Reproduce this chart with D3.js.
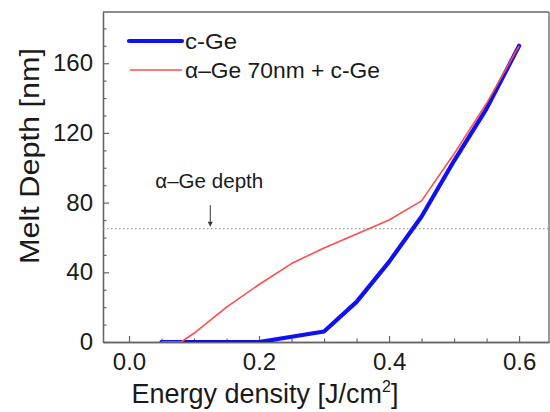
<!DOCTYPE html>
<html>
<head>
<meta charset="utf-8">
<script src="https://cdn.jsdelivr.net/npm/d3@7"></script>
<style>
  html, body { margin: 0; padding: 0; background: #fff; }
  svg { display: block; font-family: "Liberation Sans", Arial, sans-serif; }
</style>
</head>
<body>
<svg id="chart" width="550" height="412"></svg>
<script>
// ---- data ----
const cGeX = [0.05, 0.1, 0.15, 0.2, 0.25, 0.3, 0.35, 0.4, 0.45, 0.5, 0.55, 0.6];
const cGeY = [0, 0, 0, 0, 3, 6, 23, 46, 72, 104, 134, 170];
const aGeX = [0.05, 0.08, 0.1, 0.15, 0.2, 0.25, 0.3, 0.35, 0.4, 0.45, 0.5, 0.55, 0.6];
const aGeY = [0, 0, 5, 20, 33, 45, 54, 62, 70, 81, 108, 137, 170];
const seriesNames = ["c-Ge", "\u03B1\u2013Ge 70nm + c-Ge"];
const xTickValues = [0.0, 0.2, 0.4, 0.6];
const yTickValues = [0, 40, 80, 120, 160];
const depthLevel = 65;
const depthLabel = "\u03B1\u2013Ge depth";
const arrowX = 0.125;

// ---- layout ----
const svg = d3.select("#chart");
const L = 103, R = 549, T = 12, B = 342;
const x = d3.scaleLinear().domain([-0.04, 0.646]).range([L, R]);
const y = d3.scaleLinear().domain([0, 189.4]).range([B, T]);
const axisColor = "#666";
const textColor = "#1a1a1a";

svg.append("defs").append("clipPath").attr("id", "clip")
  .append("rect").attr("x", L).attr("y", T).attr("width", R - L).attr("height", B - T);

// frame top/right
svg.append("line").attr("x1", L).attr("x2", R).attr("y1", T).attr("y2", T)
  .attr("stroke", axisColor).attr("stroke-width", 1.3);
svg.append("line").attr("x1", R).attr("x2", R).attr("y1", T).attr("y2", B)
  .attr("stroke", axisColor).attr("stroke-width", 1.3);

// minor ticks
const xMinor = d3.range(0, 0.6501, 0.05).filter(v => xTickValues.every(t => Math.abs(t - v) > 1e-6));
const yMinor = d3.range(0, 190, 10).filter(v => yTickValues.indexOf(v) < 0);

const gxMinor = svg.append("g").attr("transform", `translate(0,${B})`)
  .call(d3.axisBottom(x).tickValues(xMinor).tickSize(-3.5).tickSizeOuter(0).tickFormat(""));
const gyMinor = svg.append("g").attr("transform", `translate(${L},0)`)
  .call(d3.axisLeft(y).tickValues(yMinor).tickSize(-3.5).tickSizeOuter(0).tickFormat(""));

const gx = svg.append("g").attr("transform", `translate(0,${B})`)
  .call(d3.axisBottom(x).tickValues(xTickValues).tickSize(-6).tickSizeOuter(0).tickPadding(11)
    .tickFormat(d3.format(".1f")));
const gy = svg.append("g").attr("transform", `translate(${L},0)`)
  .call(d3.axisLeft(y).tickValues(yTickValues).tickSize(-6).tickSizeOuter(0).tickPadding(10)
    .tickFormat(d3.format("d")));

[gxMinor, gyMinor, gx, gy].forEach(g => {
  g.selectAll("path.domain").attr("stroke", axisColor).attr("stroke-width", 1.3);
  g.selectAll(".tick line").attr("stroke", axisColor).attr("stroke-width", 1.2);
  g.selectAll(".tick text").attr("fill", textColor)
    .style("font-size", "24px").style("font-family", "'Liberation Sans', Arial, sans-serif");
});

// axis titles
const xt = svg.append("text").attr("x", 265).attr("y", 403)
  .attr("text-anchor", "middle").attr("fill", textColor).style("font-size", "27px");
xt.append("tspan").text("Energy density [J/cm");
xt.append("tspan").attr("dy", -11).style("font-size", "16px").text("2");
xt.append("tspan").attr("dy", 11).text("]");

svg.append("text").attr("transform", `translate(39,156) rotate(-90)`)
  .attr("text-anchor", "middle").attr("fill", textColor).style("font-size", "27px")
  .attr("textLength", 216).attr("lengthAdjust", "spacingAndGlyphs")
  .text("Melt Depth [nm]");

// depth reference line
svg.append("line").attr("x1", L).attr("x2", R).attr("y1", y(depthLevel)).attr("y2", y(depthLevel))
  .attr("stroke", "#888").attr("stroke-width", 1.2).attr("stroke-dasharray", "1.5,2.5");

// arrow + annotation
svg.append("line").attr("x1", x(arrowX)).attr("x2", x(arrowX))
  .attr("y1", y(78.5)).attr("y2", y(depthLevel) - 6)
  .attr("stroke", "#333").attr("stroke-width", 1);
svg.append("path")
  .attr("d", `M${x(arrowX) - 2.5},${y(depthLevel) - 7} L${x(arrowX) + 2.5},${y(depthLevel) - 7} L${x(arrowX)},${y(depthLevel) - 2} Z`)
  .attr("fill", "#333");
svg.append("text").attr("x", x(arrowX) - 1).attr("y", y(depthLevel) - 41)
  .attr("text-anchor", "middle").attr("fill", textColor).style("font-size", "20px")
  .attr("textLength", 108).attr("lengthAdjust", "spacingAndGlyphs")
  .text(depthLabel);

// series lines
const line = d3.line().x(d => x(d[0])).y(d => y(d[1]));
const plot = svg.append("g").attr("clip-path", "url(#clip)");
plot.append("path").datum(cGeX.map((v, i) => [v, cGeY[i]]))
  .attr("d", line).attr("fill", "none").attr("stroke", "#1010f5")
  .attr("stroke-width", 4.2).attr("stroke-linejoin", "round").attr("stroke-linecap", "round");
plot.append("path").datum(aGeX.map((v, i) => [v, aGeY[i]]))
  .attr("d", line).attr("fill", "none").attr("stroke", "#ff4d4d")
  .attr("stroke-width", 1.6).attr("stroke-linejoin", "round");

// legend
const leg = svg.append("g");
leg.append("line").attr("x1", 129).attr("x2", 182).attr("y1", 41).attr("y2", 41)
  .attr("stroke", "#1010f5").attr("stroke-width", 4.2).attr("stroke-linecap", "round");
leg.append("text").attr("x", 185).attr("y", 49).attr("fill", textColor)
  .style("font-size", "22px").attr("textLength", 52).attr("lengthAdjust", "spacingAndGlyphs")
  .text(seriesNames[0]);
leg.append("line").attr("x1", 130).attr("x2", 182).attr("y1", 70).attr("y2", 70)
  .attr("stroke", "#ff4d4d").attr("stroke-width", 1.6);
leg.append("text").attr("x", 185).attr("y", 78).attr("fill", textColor)
  .style("font-size", "22px").attr("textLength", 195).attr("lengthAdjust", "spacingAndGlyphs")
  .text(seriesNames[1]);
</script>
</body>
</html>
